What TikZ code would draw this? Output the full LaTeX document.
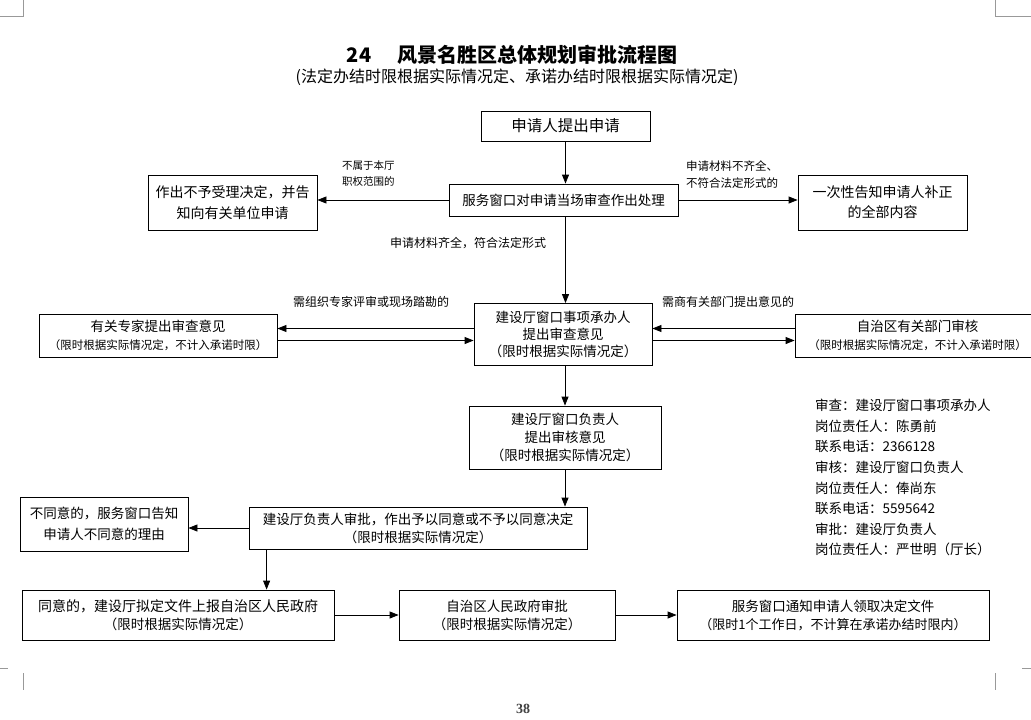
\documentclass[tikz,border=0pt]{standalone}
\usepackage{fontspec}
\setmainfont{Noto Sans CJK SC}
\newfontfamily\pagenumfont{Liberation Serif}
\usetikzlibrary{arrows.meta}
\newcommand{\fsz}[2]{\fontsize{#1pt}{#2pt}\selectfont}
\tikzset{
  box/.style={draw, line width=0.8pt, inner sep=0pt, align=center, font=\fsz{13.5}{18}},
  arr/.style={line width=0.8pt, -{Triangle[length=9pt,width=7pt]}},
  lbl/.style={inner sep=0pt, anchor=west, align=left, font=\fsz{11.5}{17}},
  crop/.style={draw=black!40, line width=0.8pt}
}
\begin{document}
\begin{tikzpicture}[x=1pt,y=-1pt]
\useasboundingbox (0,0) rectangle (1031,720);
\clip (0,0) rectangle (1031,720);
\fill[white] (0,0) rectangle (1031,720);
% crop marks
\draw[crop] (23,0) -- (23,16) -- (0,16);
\draw[crop] (995,0) -- (995,16) -- (1031,16);
\draw[crop] (23,673) -- (23,690);
\draw[crop] (0,668) -- (8,668);
\draw[crop] (995,673) -- (995,690);
\draw[crop] (1022,668) -- (1031,668);
% title
\node[inner sep=0pt, font=\fsz{20}{24}\bfseries] (title) at (512,55) {24\hspace{1.3em}风景名胜区总体规划审批流程图};
\node[inner sep=0pt, font=\fsz{16}{20}] (subtitle) at (517,77) {(法定办结时限根据实际情况定、承诺办结时限根据实际情况定)};
% boxes
\node[box, minimum width=169pt, minimum height=30pt, font=\fsz{15.5}{18}] (n1) at (565.5,126) {申请人提出申请};
\node[box, minimum width=229pt, minimum height=32pt] (n2) at (563.5,200) {服务窗口对申请当场审查作出处理};
\node[box, minimum width=169pt, minimum height=55pt, font=\fsz{14}{21}] (n3) at (232.5,202.5) {作出不予受理决定，并告\\知向有关单位申请};
\node[box, minimum width=169pt, minimum height=55pt, font=\fsz{14}{20}] (n4) at (882.5,202.5) {一次性告知申请人补正\\的全部内容};
\node[box, minimum width=178pt, minimum height=62pt, font=\fsz{13.5}{17}] (n5) at (563,334.5) {建设厅窗口事项承办人\\提出审查意见\\（限时根据实际情况定）};
\node[box, minimum width=238pt, minimum height=43pt] (n6) at (158,335.5) {有关专家提出审查意见\\{\fsz{11.5}{14}（限时根据实际情况定，不计入承诺时限）}};
\node[box, minimum width=245pt, minimum height=43pt] (n7) at (917.5,335.5) {自治区有关部门审核\\{\fsz{11.5}{14}（限时根据实际情况定，不计入承诺时限）}};
\node[box, minimum width=192pt, minimum height=63pt] (n8) at (565,437.5) {建设厅窗口负责人\\提出审核意见\\（限时根据实际情况定）};
\node[box, minimum width=338pt, minimum height=42pt] (n9) at (418,528) {建设厅负责人审批，作出予以同意或不予以同意决定\\（限时根据实际情况定）};
\node[box, minimum width=168pt, minimum height=54pt, font=\fsz{13.5}{21}] (n10) at (104,524) {不同意的，服务窗口告知\\申请人不同意的理由};
\node[box, minimum width=312pt, minimum height=50pt, font=\fsz{14}{18}] (n11) at (178,615) {同意的，建设厅拟定文件上报自治区人民政府\\{\fsz{13.5}{18}（限时根据实际情况定）}};
\node[box, minimum width=216pt, minimum height=50pt] (n12) at (507,615) {自治区人民政府审批\\（限时根据实际情况定）};
\node[box, minimum width=312pt, minimum height=50pt, font=\fsz{13.5}{18}] (n13) at (833,615) {服务窗口通知申请人领取决定文件\\{\fsz{13}{18}（限时1个工作日，不计算在承诺办结时限内）}};
% labels
\node[lbl, font=\fsz{10.5}{16}] (l1) at (342,174) {不属于本厅\\职权范围的};
\node[lbl, font=\fsz{11.5}{17}] (l2) at (686,174.5) {申请材料不齐全、\\不符合法定形式的};
\node[lbl, font=\fsz{12}{16}] (l3) at (390,243) {申请材料齐全，符合法定形式};
\node[lbl, font=\fsz{12}{16}] (l4) at (293,302) {需组织专家评审或现场踏勘的};
\node[lbl, font=\fsz{12}{16}] (l5) at (662,302) {需商有关部门提出意见的};
% responsibility text
\node[inner sep=0pt, anchor=north west, align=left, font=\fsz{13.5}{20.6}] (info) at (815,399) {审查：建设厅窗口事项承办人\\岗位责任人：陈勇前\\联系电话：2366128\\审核：建设厅窗口负责人\\岗位责任人：俸尚东\\联系电话：5595642\\审批：建设厅负责人\\岗位责任人：严世明（厅长）};
% page number
\node[inner sep=0pt, font=\pagenumfont\bfseries\fsz{14}{16}, text=black!75] (pg) at (523,709) {38};
% connectors
\draw[arr] (n1.south) -- (n1.south |- n2.north);
\draw[arr] (n2.west) -- (n2.west -| n3.east);
\draw[arr] (n2.east) -- (n2.east -| n4.west);
\draw[arr] (n1.south |- n2.south) -- (n1.south |- n5.north);
\draw[arr] ([yshift=6pt]n5.west) -- ([yshift=6pt]n5.west -| n6.east);
\draw[arr] ([yshift=-6pt]n5.west -| n6.east) -- ([yshift=-6pt]n5.west);
\draw[arr] ([yshift=6pt]n5.east -| n7.west) -- ([yshift=6pt]n5.east);
\draw[arr] ([yshift=-6pt]n5.east) -- ([yshift=-6pt]n5.east -| n7.west);
\draw[arr] (n8.north |- n5.south) -- (n8.north);
\draw[arr] (n8.south) -- (n8.south |- n9.north);
\draw[arr] (n9.west) -- (n9.west -| n10.east);
\draw[arr] ([xshift=18pt]n9.south west) -- ([xshift=18pt]n9.south west |- n11.north);
\draw[arr] (n11.east) -- (n11.east -| n12.west);
\draw[arr] (n12.east) -- (n12.east -| n13.west);
\end{tikzpicture}
\end{document}
